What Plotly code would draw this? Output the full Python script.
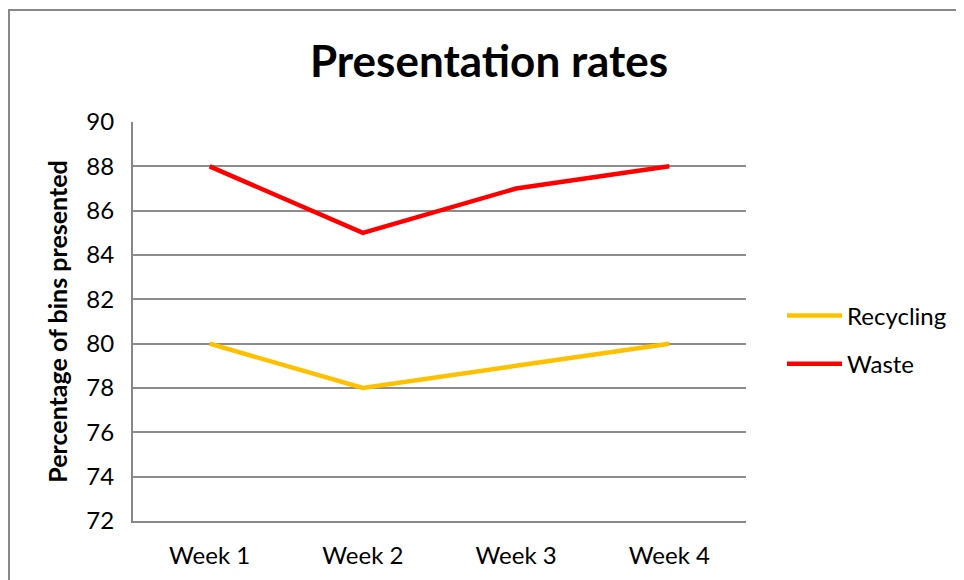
import plotly.graph_objects as go

weeks = ["Week 1", "Week 2", "Week 3", "Week 4"]
recycling = [80, 78, 79, 80]
waste = [88, 85, 87, 88]
y_ticks = [72, 74, 76, 78, 80, 82, 84, 86, 88, 90]

FONT = "Lato, 'Open Sans', sans-serif"

fig = go.Figure()
fig.add_trace(go.Scatter(x=weeks, y=recycling, mode="lines", name="Recycling",
                         legendgroup="r",
                         line=dict(color="#FFC000", width=4.5)))
fig.add_trace(go.Scatter(x=weeks, y=waste, mode="lines", name="Waste",
                         legendgroup="w",
                         line=dict(color="#FF0000", width=4.5)))

OFF = 8  # page body margin
W, H = 964 - OFF, 580 - OFF
L, T = 133 - OFF, 122 - OFF
pw, ph = 613, 399
R, B = W - L - pw, H - T - ph

def px_x(ax):  # absolute screen x -> paper
    return (ax - OFF - L) / pw

def px_y(ay):  # absolute screen y -> paper
    return (T + ph - (ay - OFF)) / ph

fig.update_layout(
    width=W, height=H,
    margin=dict(l=L, r=R, t=T, b=B),
    paper_bgcolor="white", plot_bgcolor="white",
    font=dict(family=FONT, color="black", size=24),
    title=dict(text="<b>Presentation rates</b>", x=(489 - OFF) / W, xanchor="center",
               y=1 - (62 - OFF) / H, yanchor="middle", font=dict(size=44, family=FONT)),
    showlegend=True,
    legend=dict(x=px_x(782), y=px_y(340), xanchor="left", yanchor="middle",
                font=dict(size=24, family=FONT), itemwidth=55, tracegroupgap=14,
                bgcolor="rgba(0,0,0,0)"),
    xaxis=dict(type="category", range=[-0.5, 3.5], showgrid=False, zeroline=False,
               showline=True, linecolor="#888888", linewidth=2, ticks="",
               ticklabelstandoff=12,
               tickfont=dict(size=24, family=FONT)),
    yaxis=dict(range=[72, 90], tickvals=y_ticks, showgrid=True, gridcolor="#8c8c8c",
               gridwidth=1.5, zeroline=False, showline=True, linecolor="#888888",
               linewidth=2, ticks="", ticklabelstandoff=12,
               tickfont=dict(size=24, family=FONT),
               title=dict(text="<b>Percentage of bins presented</b>", standoff=12,
                          font=dict(size=25, family=FONT))),
    shapes=[dict(type="rect", xref="paper", yref="paper",
                 x0=px_x(9), x1=px_x(W + 40),
                 y0=px_y(H + 40), y1=px_y(10),
                 line=dict(color="#888888", width=2), fillcolor="rgba(0,0,0,0)",
                 layer="below")],
)

fig.write_html("out.html")
